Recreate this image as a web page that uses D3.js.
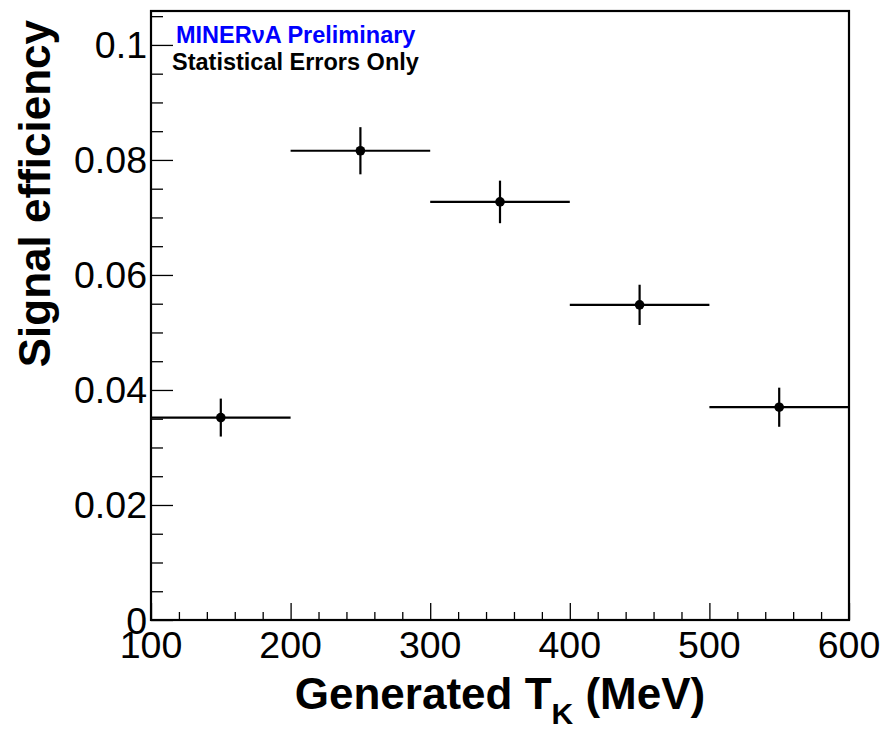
<!DOCTYPE html>
<html lang="en">
<head>
<meta charset="utf-8">
<title>Signal efficiency vs generated T_K</title>
<script src="https://cdn.jsdelivr.net/npm/d3@7"></script>
<style>
  body { margin: 0; background: #fff; }
  svg { display: block; font-family: "Liberation Sans", Arial, Helvetica, sans-serif; }
</style>
</head>
<body>
<svg id="chart" width="884" height="731"></svg>
<script>
// bins of generated kaon kinetic energy (MeV)
var binLow = [100, 200, 300, 400, 500];
var binHigh = [200, 300, 400, 500, 600];
var efficiency = [0.0352, 0.0816, 0.0727, 0.0548, 0.0370];
var effError = [0.0033, 0.0041, 0.0037, 0.0035, 0.0034];

var xTicks = [100, 200, 300, 400, 500, 600];
var yTicks = [0, 0.02, 0.04, 0.06, 0.08, 0.1];
var yTickLabels = ["0", "0.02", "0.04", "0.06", "0.08", "0.1"];

var svg = d3.select("#chart");

// frame in pixels (window.top is taken, so prefixed names)
var fLeft = 151, fRight = 849, fTop = 11, fBottom = 620;

var x = d3.scaleLinear().domain([100, 600]).range([fLeft, fRight]);
var y = d3.scaleLinear().domain([0, 0.1059]).range([fBottom, fTop]);

// minor ticks
var xMinor = d3.range(100, 601, 20).filter(function(v) { return xTicks.indexOf(v) < 0; });
var yMinor = d3.range(0, 0.1059, 0.005).filter(function(v) {
  return yTicks.every(function(t) { return Math.abs(t - v) > 1e-9; });
});

// y axis, ticks pointing into the frame
var yAxisG = svg.append("g").attr("transform", "translate(" + fLeft + ",0)");
yAxisG.call(d3.axisRight(y).tickValues(yTicks).tickSize(22).tickFormat(""));
yAxisG.append("g").call(d3.axisRight(y).tickValues(yMinor).tickSize(12).tickFormat(""));
yAxisG.selectAll(".domain").remove();
yAxisG.selectAll("line").attr("stroke", "#000").attr("stroke-width", 1.3);

svg.append("g").selectAll("text")
  .data(yTicks)
  .enter().append("text")
  .attr("x", fLeft - 4)
  .attr("y", function(d) { return y(d); })
  .attr("dy", "0.36em")
  .attr("text-anchor", "end")
  .attr("font-size", 37.5)
  .attr("fill", "#000")
  .text(function(d, i) { return yTickLabels[i]; });

// x axis, ticks pointing up
var xAxisG = svg.append("g").attr("transform", "translate(0," + fBottom + ")");
xAxisG.call(d3.axisTop(x).tickValues(xTicks).tickSize(17).tickFormat(""));
xAxisG.append("g").call(d3.axisTop(x).tickValues(xMinor).tickSize(8).tickFormat(""));
xAxisG.selectAll(".domain").remove();
xAxisG.selectAll("line").attr("stroke", "#000").attr("stroke-width", 1.3);

svg.append("g").selectAll("text")
  .data(xTicks)
  .enter().append("text")
  .attr("x", function(d) { return x(d); })
  .attr("y", 658)
  .attr("text-anchor", "middle")
  .attr("font-size", 37.5)
  .attr("fill", "#000")
  .text(function(d) { return d; });

// frame
svg.append("rect")
  .attr("x", fLeft).attr("y", fTop)
  .attr("width", fRight - fLeft).attr("height", fBottom - fTop)
  .attr("fill", "none").attr("stroke", "#000").attr("stroke-width", 2.2);

// data: horizontal bin width, vertical stat error, marker
var pts = svg.append("g").selectAll("g")
  .data(efficiency)
  .enter().append("g");

pts.append("line")
  .attr("x1", function(d, i) { return x(binLow[i]); })
  .attr("x2", function(d, i) { return x(binHigh[i]); })
  .attr("y1", function(d) { return y(d); })
  .attr("y2", function(d) { return y(d); })
  .attr("stroke", "#000").attr("stroke-width", 2.2);

pts.append("line")
  .attr("x1", function(d, i) { return x((binLow[i] + binHigh[i]) / 2); })
  .attr("x2", function(d, i) { return x((binLow[i] + binHigh[i]) / 2); })
  .attr("y1", function(d, i) { return y(d + effError[i]); })
  .attr("y2", function(d, i) { return y(d - effError[i]); })
  .attr("stroke", "#000").attr("stroke-width", 2.2);

pts.append("circle")
  .attr("cx", function(d, i) { return x((binLow[i] + binHigh[i]) / 2); })
  .attr("cy", function(d) { return y(d); })
  .attr("r", 4.8)
  .attr("fill", "#000");

// labels inside the frame
svg.append("text")
  .attr("x", 176).attr("y", 43)
  .attr("font-size", 23.5).attr("font-weight", "bold").attr("fill", "#0000ff")
  .text("MINERνA Preliminary");

svg.append("text")
  .attr("x", 172).attr("y", 70)
  .attr("font-size", 23.5).attr("font-weight", "bold").attr("fill", "#000")
  .text("Statistical Errors Only");

// axis titles
var xt = svg.append("text")
  .attr("x", (fLeft + fRight) / 2).attr("y", 709)
  .attr("text-anchor", "middle")
  .attr("font-size", 44).attr("font-weight", "bold").attr("fill", "#000");
xt.append("tspan").text("Generated T");
xt.append("tspan").attr("font-size", 30).attr("dy", 15).text("K");
xt.append("tspan").attr("dy", -15).text(" (MeV)");

svg.append("text")
  .attr("transform", "translate(50," + fTop + ") rotate(-90)")
  .attr("x", -9)
  .attr("text-anchor", "end")
  .attr("font-size", 44).attr("font-weight", "bold").attr("fill", "#000")
  .text("Signal efficiency");
</script>
</body>
</html>
